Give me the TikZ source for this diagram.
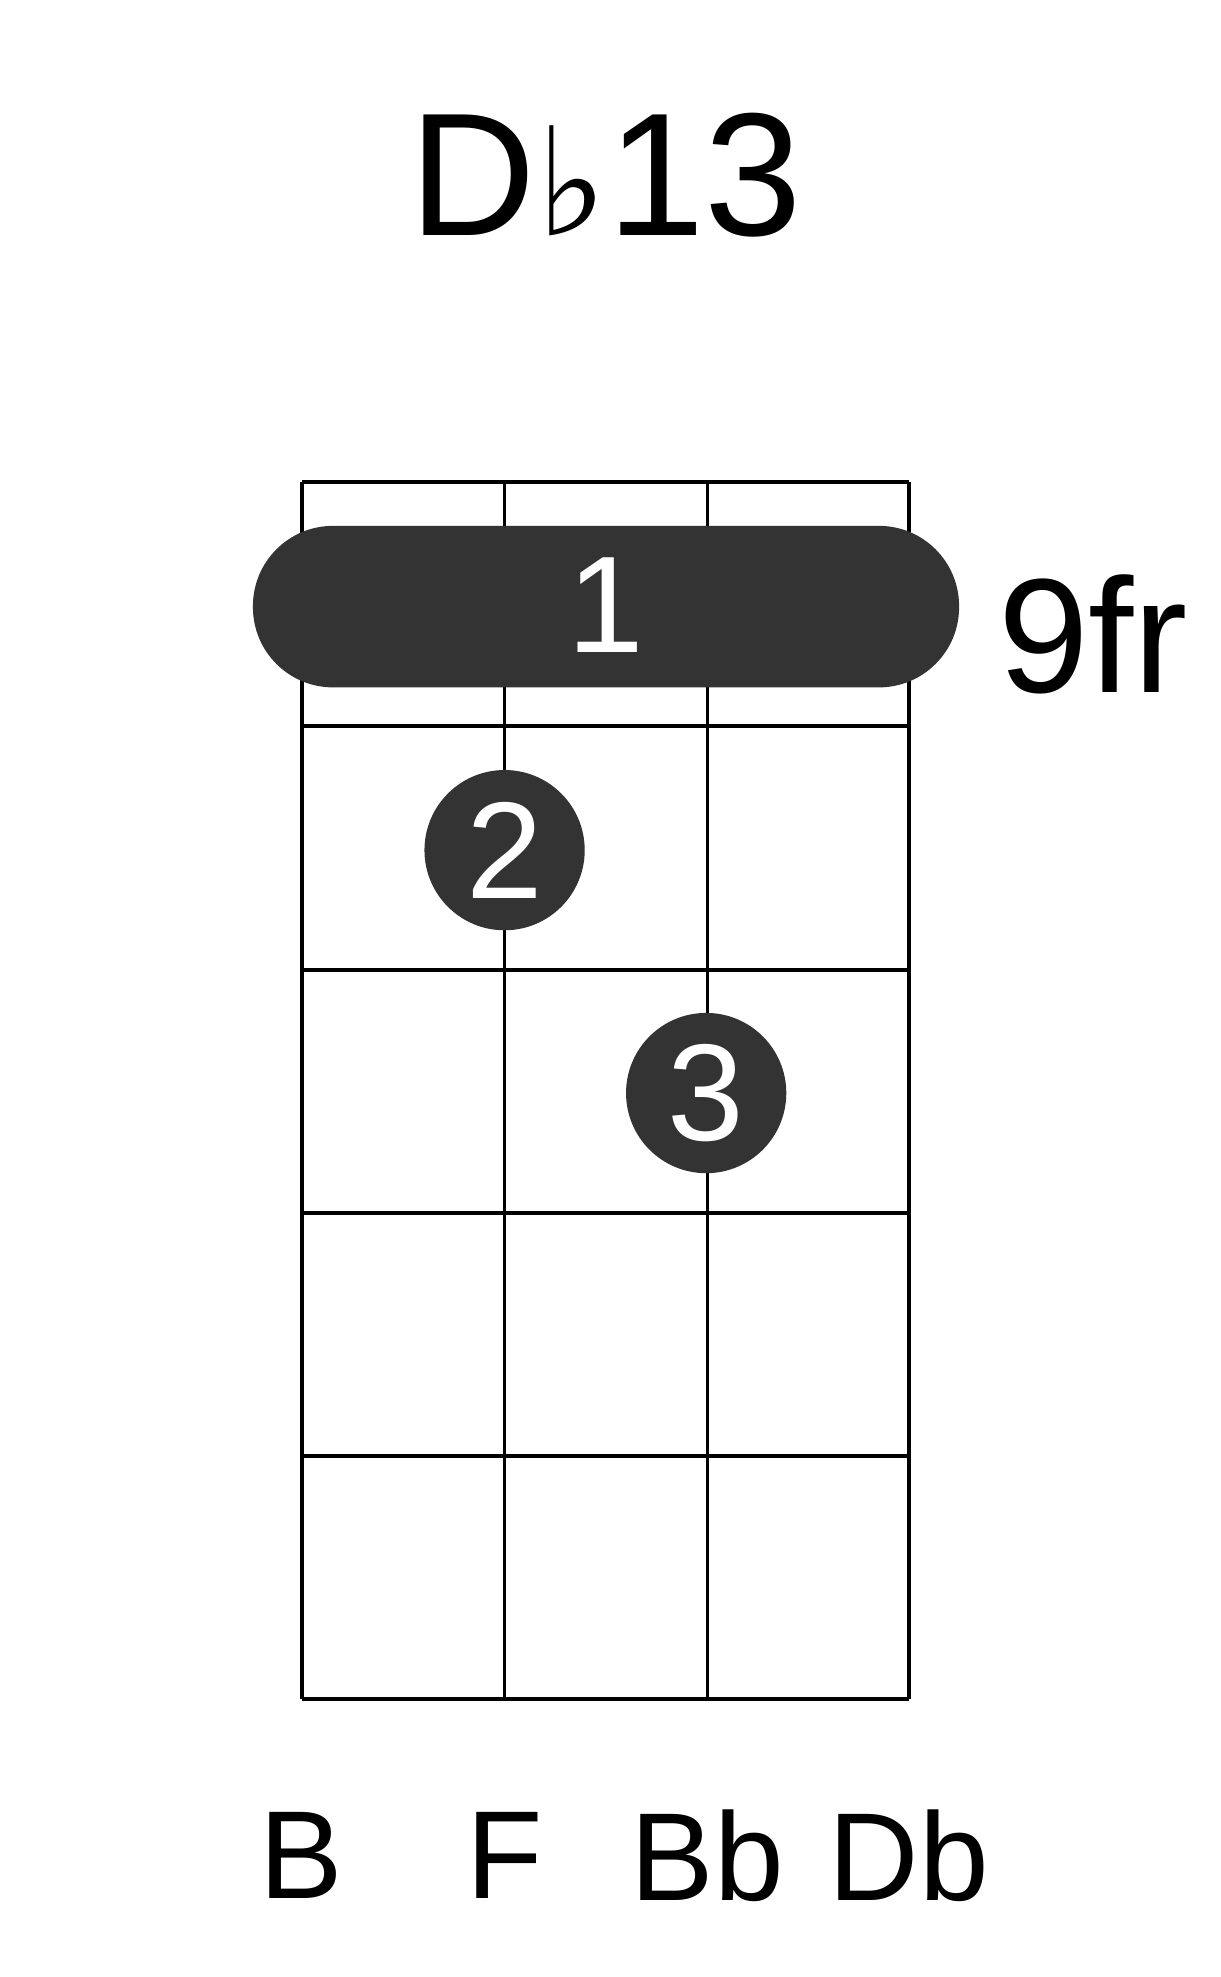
\documentclass[tikz,border=0pt]{standalone}
\usepackage{fontspec}
\setmainfont{Liberation Sans}
\newfontfamily\symfont{DejaVu Sans}
\definecolor{dotgray}{HTML}{333333}
\begin{document}
\begin{tikzpicture}[x=1pt,y=-1pt]
 \tikzset{grid/.style={line width=3pt}, finger/.style={circle, fill=dotgray, minimum size=128pt, inner sep=0pt, text=white, font=\fontsize{110}{110}\selectfont}}
  \useasboundingbox (0,0) rectangle (975,1579);
  \foreach \x in {241,403,565,726} \draw[grid] (\x,385) -- (\x,1357);
  \foreach \y in {385,580,775,969,1163,1357} \draw[grid] (241,\y) -- (726,\y);
  \node[font=\fontsize{140}{140}\selectfont] (T) at (484,140) {D{\symfont\fontsize{120}{120}\selectfont ♭}13};
  \fill[dotgray, rounded corners=64pt] (202,420) rectangle (766,549);
  \node[text=white, font=\fontsize{110}{110}\selectfont] (B1) at (484,483) {1};
  \node[font=\fontsize{130}{130}\selectfont] (FR) at (873,507) {9fr};
  \node[finger] (F2) at (403,679) {2};
  \node[finger] (F3) at (564,873) {3};
  \node[font=\fontsize{100}{100}\selectfont] (S1) at (241,1482) {B};
  \node[font=\fontsize{100}{100}\selectfont] (S2) at (403,1482) {F};
  \node[font=\fontsize{100}{100}\selectfont] (S3) at (565,1482) {Bb};
  \node[font=\fontsize{100}{100}\selectfont] (S4) at (726,1482) {Db};
\end{tikzpicture}
\end{document}
